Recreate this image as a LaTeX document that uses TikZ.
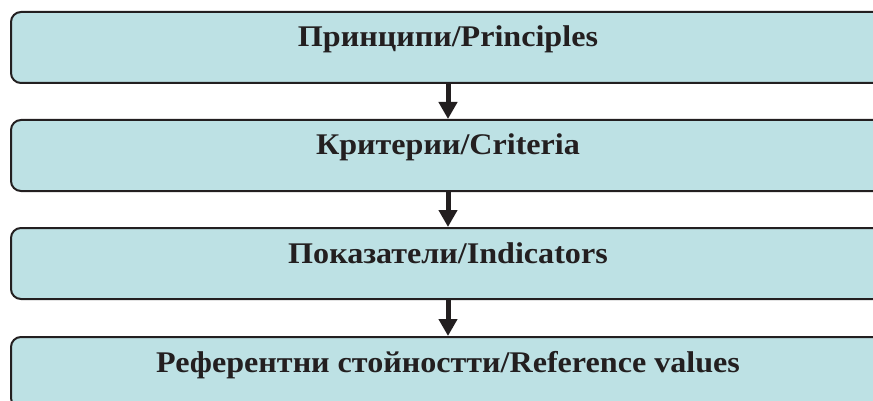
\documentclass[tikz,border=0pt]{standalone}
\usepackage{fontspec}
\setmainfont[FakeStretch=1.07]{Liberation Serif}
\usetikzlibrary{positioning,arrows.meta}
\definecolor{boxfill}{HTML}{BDE1E4}
\definecolor{boxline}{HTML}{231F20}

\begin{document}
\begin{tikzpicture}[
    levelbox/.style={draw=boxline, line width=2pt, fill=boxfill, rounded corners=10pt,
        minimum width=874pt, inner sep=0pt, text height=35pt, text depth=36pt,
        text=boxline, font=\fontsize{30}{34}\selectfont\bfseries},
    flow/.style={draw=boxline, line width=5pt, -{Triangle[width=18pt,length=17pt]}},
    node distance=35pt
]
\useasboundingbox (0,0) rectangle (873pt,-401pt);
\node[levelbox] (principles) at (448pt,-47.5pt) {Принципи/Principles};
\node[levelbox, below=of principles] (criteria) {Критерии/Criteria};
\node[levelbox, below=of criteria] (indicators) {Показатели/Indicators};
\node[levelbox, below=36pt of indicators] (refvalues) {Референтни стойностти/Reference values};
\draw[flow] (principles) -- (criteria);
\draw[flow] (criteria) -- (indicators);
\draw[flow] (indicators) -- (refvalues);
\end{tikzpicture}
\end{document}
